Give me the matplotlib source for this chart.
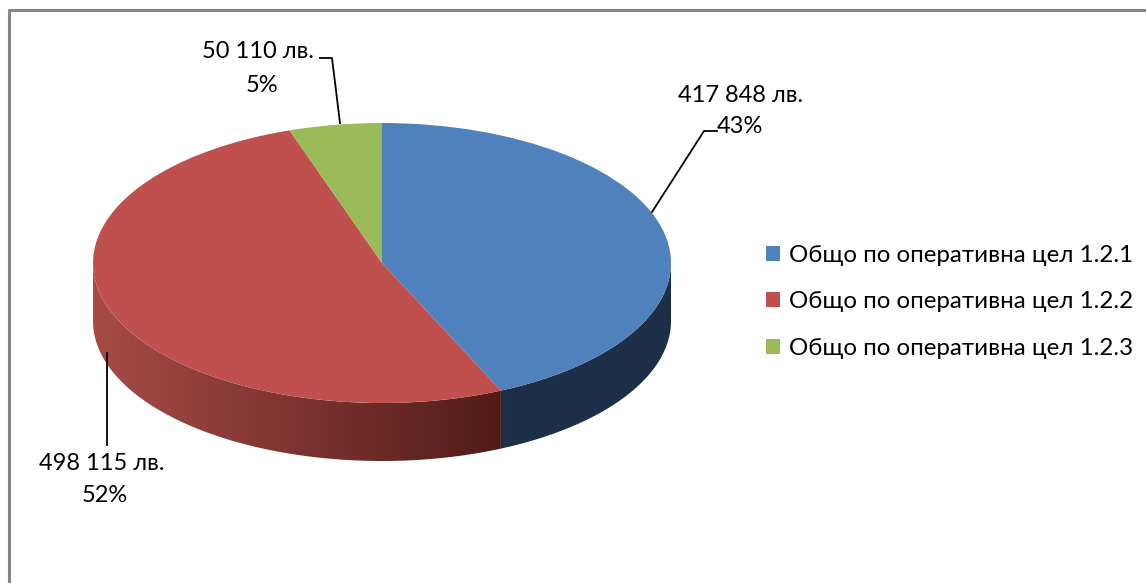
import numpy as np
import matplotlib.pyplot as plt
from matplotlib.patches import Polygon
from matplotlib.colors import to_rgb

# data
categories = ["Общо по оперативна цел 1.2.1",
              "Общо по оперативна цел 1.2.2",
              "Общо по оперативна цел 1.2.3"]
amounts = [417848, 498115, 50110]
amount_labels = ["417 848 лв.", "498 115 лв.", "50 110 лв."]
pct_labels = ["43%", "52%", "5%"]

top_colors = ["#4F81BD", "#C0504D", "#9BBB59"]
side_light = ["#22385A", "#A84B47", "#6E8A3A"]
side_dark = ["#1D3048", "#4E1A17", "#5A7230"]

plt.rcParams["font.family"] = ["Lato", "DejaVu Sans"]

W, H = 1146, 583
fig = plt.figure(figsize=(W / 100, H / 100), dpi=100)
ax = fig.add_axes([0, 0, 1, 1])

# pixel geometry of the pie (center, radii, depth)
cx, cy = 382, 263
rx, ry = 289, 140
depth_px = 58
depth = depth_px / ry

wedges, _ = ax.pie(amounts, colors=top_colors, startangle=90,
                   counterclock=False, radius=1.0, center=(0, 0),
                   frame=True, wedgeprops=dict(linewidth=0, zorder=3))

# front side wall, built from the wedge angles, shaded with a gradient
xg = np.linspace(-1, 1, 400)
fg = np.clip((xg + 1) / 1.46, 0, 1)[None, :, None]
for i, w in enumerate(wedges):
    t = np.linspace(w.theta1, w.theta2, 400)
    t = t[np.sin(np.radians(t)) <= 0.0005]
    if len(t) < 2:
        continue
    tr = np.radians(t)
    xs, ys = np.cos(tr), np.sin(tr)
    pts = np.concatenate([np.column_stack([xs, ys]),
                          np.column_stack([xs[::-1], ys[::-1] - depth])])
    poly = Polygon(pts, closed=True, facecolor="none", edgecolor="none")
    ax.add_patch(poly)
    grad = (np.array(to_rgb(side_light[i]))[None, None, :] * (1 - fg)
            + np.array(to_rgb(side_dark[i]))[None, None, :] * fg)
    im = ax.imshow(grad, extent=[-1, 1, -1 - depth, 0.01], aspect="auto",
                   origin="lower", interpolation="bilinear", zorder=2)
    im.set_clip_path(poly)

ax.set_xlim(-cx / rx, (W - cx) / rx)
ax.set_ylim(-(H - cy) / ry, cy / ry)
ax.set_aspect("auto")
ax.axis("off")


def px(x, y):
    return ((x - cx) / rx, (cy - y) / ry)


fs = 17
# labels (pixel positions from reference)
label_pos = [(741, 95), (102, 463), (258, 52)]
pct_pos = [(740, 126), (105, 495), (262, 85)]
for i in range(3):
    ax.text(*px(*label_pos[i]), amount_labels[i], ha="center", va="center",
            fontsize=fs)
    ax.text(*px(*pct_pos[i]), pct_labels[i], ha="center", va="center",
            fontsize=fs)

# leader lines
leaders = [
    [(717, 131), (704, 131), (652, 212)],
    [(107, 445), (107, 353)],
    [(320, 58), (332, 58), (340, 123)],
]
for pts in leaders:
    xy = np.array([px(x, y) for x, y in pts])
    ax.plot(xy[:, 0], xy[:, 1], color="black", lw=1.3, zorder=4)

# chart border (left and top visible)
ax.plot(*zip(px(9, H + 5), px(9, 10), px(W + 5, 10)),
        color="#868686", lw=2.2, solid_capstyle="projecting", zorder=5)

leg = fig.legend(wedges, categories, loc="upper left",
                 bbox_to_anchor=(766 / W, 1 - 245 / H),
                 frameon=False, fontsize=17.4, handlelength=0.58,
                 handleheight=0.58, handletextpad=0.37, labelspacing=1.05,
                 borderpad=0, borderaxespad=0)

fig.savefig("out.png", dpi=100)
